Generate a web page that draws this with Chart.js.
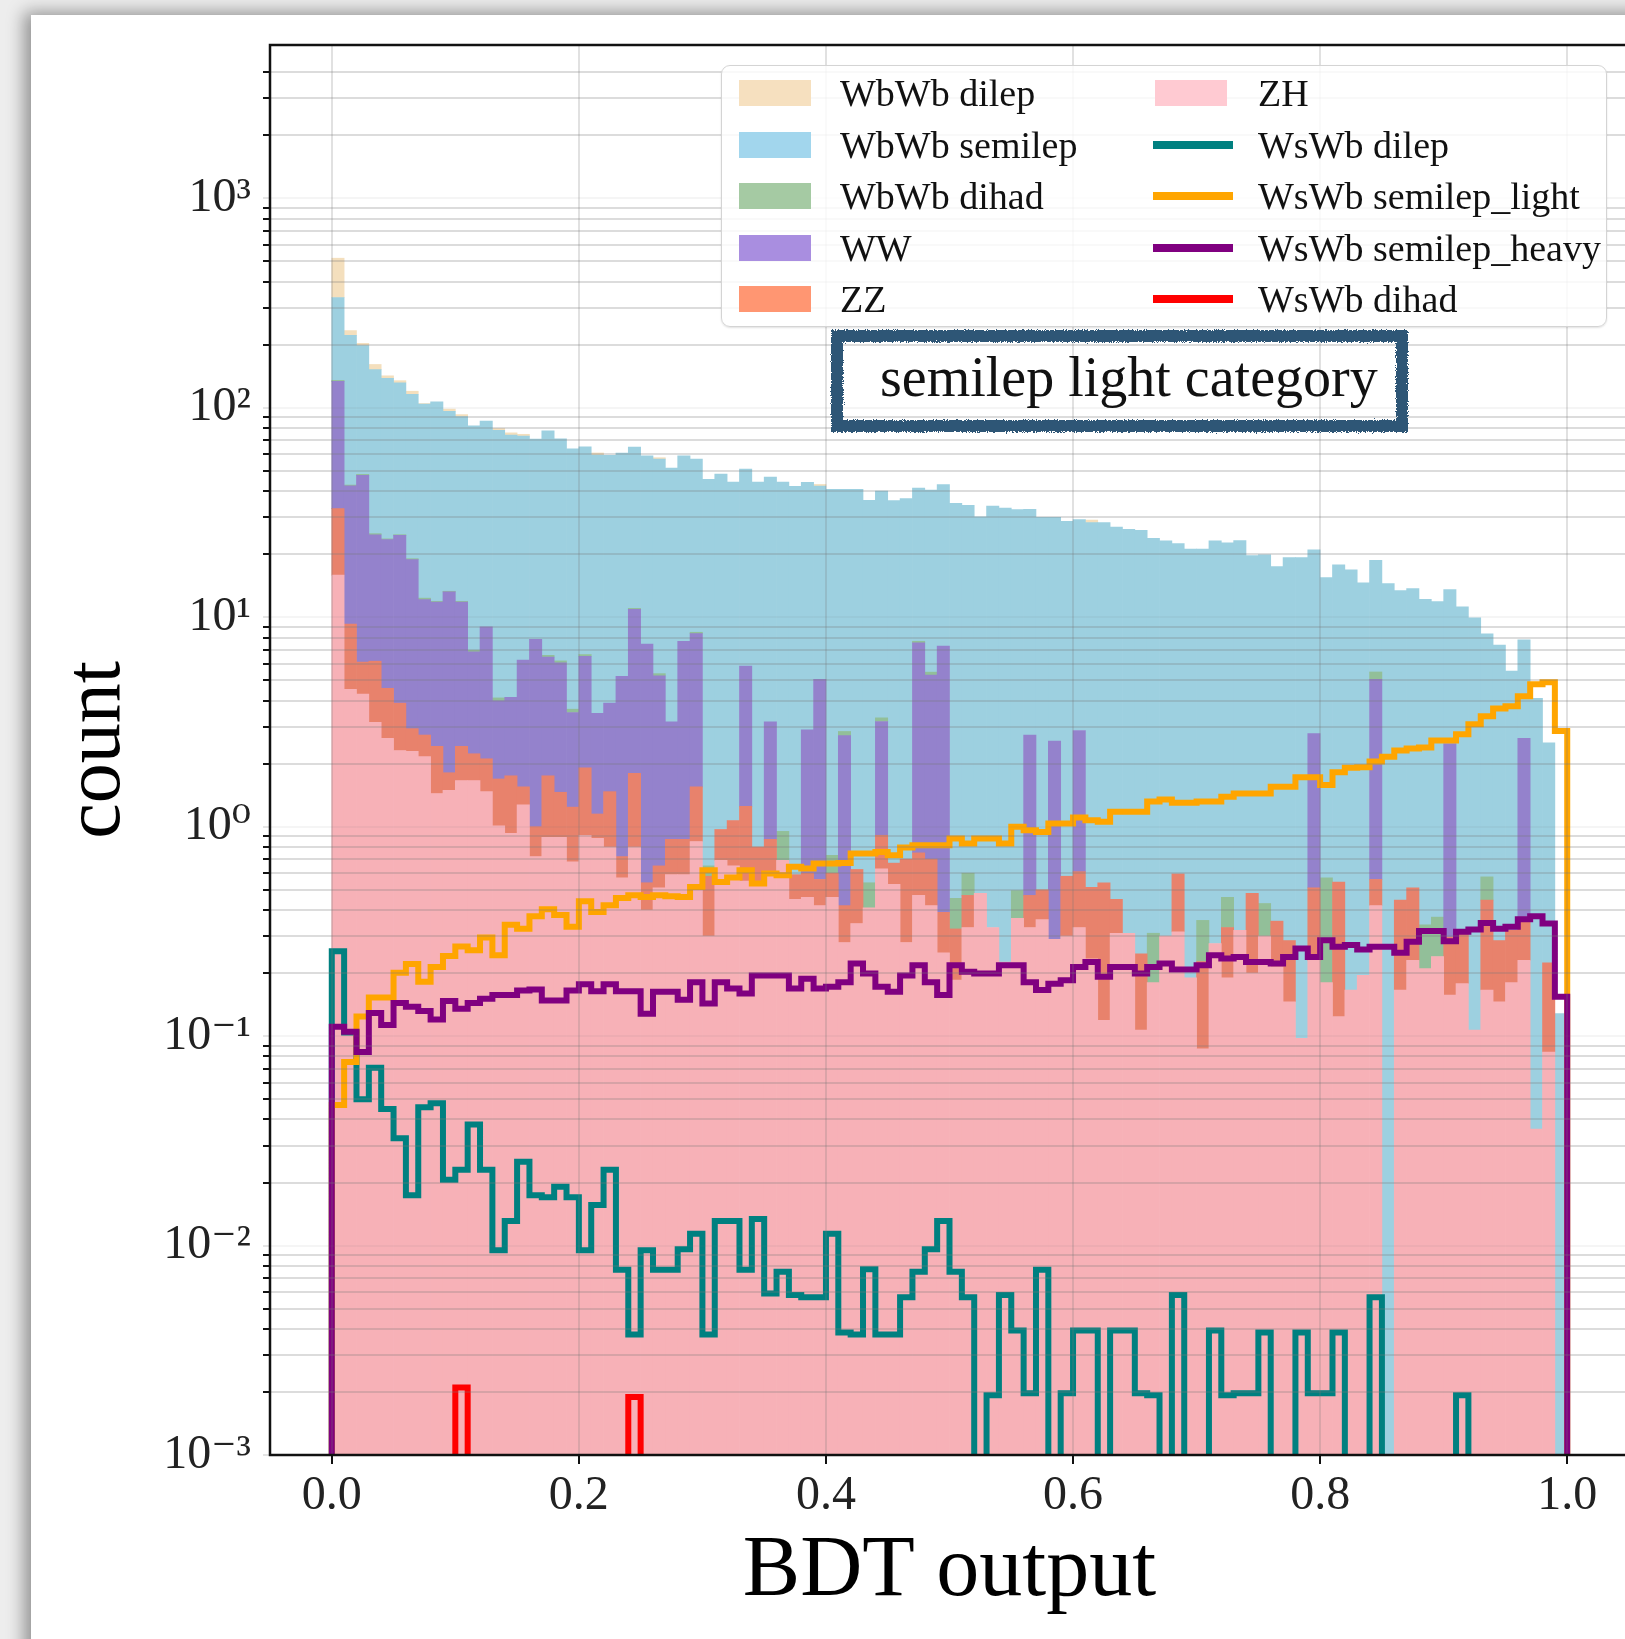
<!DOCTYPE html>
<html>
<head>
<meta charset="utf-8">
<script src="https://cdn.jsdelivr.net/npm/chart.js@4/dist/chart.umd.min.js"></script>
<style>
html, body { margin: 0; padding: 0; width: 1625px; height: 1639px; overflow: hidden; background: #ededed; }
#paper { position: absolute; left: 31px; top: 15px; width: 1700px; height: 1700px; background: #fff;
         box-shadow: -7px -3px 16px rgba(0,0,0,0.38); }
#wrap { position: absolute; left: 0; top: 0; width: 1665px; height: 1639px; }
#legend { position: absolute; left: 721px; top: 65px; width: 886px; height: 262px; box-sizing: border-box;
          border: 1.5px solid #d4d4d4; border-radius: 9px; background: rgba(255,255,255,0.82);
          box-shadow: 0 1px 2px rgba(0,0,0,0.12);
          font-family: 'Liberation Serif', 'DejaVu Serif', serif; font-size: 38px; color: #111; }
.sw { position: absolute; width: 72px; height: 26px; }
.ln { position: absolute; width: 80px; height: 8px; }
.tx { position: absolute; height: 44px; line-height: 44px; white-space: nowrap; }
#catbox { position: absolute; left: 831px; top: 330px; width: 577px; height: 102px; box-sizing: border-box;
          border: 12px solid #2f5676; filter: url(#rough); }
#cattext { position: absolute; left: 880px; top: 330px; height: 94px; line-height: 94px; white-space: nowrap;
           font-family: 'Liberation Serif', 'DejaVu Serif', serif; font-size: 56px; color: #111; }
</style>
</head>
<body>
<svg width="0" height="0" style="position:absolute">
  <filter id="rough" x="-5%" y="-15%" width="110%" height="130%">
    <feTurbulence type="fractalNoise" baseFrequency="0.9" numOctaves="2" seed="4" result="n"/>
    <feDisplacementMap in="SourceGraphic" in2="n" scale="5" xChannelSelector="R" yChannelSelector="G"/>
  </filter>
</svg>
<div id="paper"></div>
<div id="wrap"><canvas id="chart" width="1665" height="1639"></canvas></div>
<div id="legend"></div>
<div id="catbox"></div>
<div id="cattext">semilep light category</div>

<script>
// histogram: 100 bins on [0, 1]
const nBins = 100;
const xTicks = [0, 0.2, 0.4, 0.6, 0.8, 1.0];

// background samples (stacked, bottom first)
const zh = [15.9, 4.53, 4.30, 3.15, 2.64, 2.31, 2.29, 2.16, 1.44, 1.49,
    1.66, 1.66, 1.47, 1.01, 0.93, 1.27, 0.72, 0.89, 0.89, 0.68,
    0.91, 0.88, 0.80, 0.57, 0.80, 0.40, 0.51, 0.59, 0.59, 0.85,
    0.30, 0.69, 0.65, 0.55, 0.52, 0.59, 0.69, 0.45, 0.46, 0.42,
    0.46, 0.28, 0.345, 0.41, 0.63, 0.53, 0.28, 0.47, 0.42, 0.25,
    0.185, 0.33, 0.48, 0.33, 0.226, 0.365, 0.33, 0.36, 0.29, 0.30,
    0.33, 0.234, 0.119, 0.31, 0.31, 0.107, 0.18, 0.30, 0.315, 0.19,
    0.087, 0.277, 0.19, 0.32, 0.20, 0.30, 0.214, 0.146, 0.0975, 0.23,
    0.18, 0.124, 0.166, 0.195, 0.42, 0, 0.166, 0.23, 0.21, 0.24,
    0.157, 0.178, 0.107, 0.166, 0.146, 0.18, 0.23, 0.036, 0.084, 0];
const zz = [17.1, 4.76, 1.81, 3.02, 1.94, 1.58, 0.65, 0.58, 0.98, 0.32,
    0.76, 0.57, 0.64, 0.68, 0.82, 0.28, 0.28, 0.86, 0.57, 0.56,
    1.0, 0.27, 0.67, 0.15, 1.0, 0.14, 0.14, 0.28, 0.28, 0.70,
    0.28, 0.28, 0.42, 0.70, 0.28, 0.28, 0, 0.14, 0.14, 0.14,
    0.14, 0.14, 0.28, 0, 0.28, 0.14, 0.42, 0.28, 0.28, 0.14,
    0.14, 0.14, 0, 0, 0, 0, 0.14, 0.14, 0, 0.28,
    0.28, 0.28, 0.42, 0.14, 0, 0.14, 0, 0, 0.28, 0,
    0.14, 0, 0.14, 0, 0.28, 0, 0.14, 0.14, 0, 0.28,
    0, 0.42, 0, 0, 0.14, 0, 0.28, 0.28, 0, 0,
    0.14, 0.14, 0, 0.28, 0.14, 0.14, 0.14, 0, 0.14, 0];
const ww = [100.7, 33.1, 41.5, 18.6, 18.9, 20.7, 15.9, 9.4, 9.4, 11.4,
    9.4, 4.6, 6.9, 2.3, 2.4, 4.7, 6.85, 4.7, 4.6, 2.27,
    4.6, 2.33, 2.42, 4.5, 9.1, 6.9, 4.6, 2.3, 6.8, 6.8,
    0, 0, 0, 4.6, 0, 2.3, 0, 0, 2.3, 4.5,
    0, 2.3, 0, 0, 2.27, 0, 0, 6.8, 4.6, 6.9,
    0, 0, 0, 0, 0, 0, 2.27, 0, 2.27, 0,
    2.27, 0, 0, 0, 0, 0, 0, 0, 0, 0,
    0, 0, 0, 0, 0, 0, 0, 0, 0, 2.27,
    0, 0, 0, 0, 4.5, 0, 0, 0, 0, 0,
    2.2, 0, 0, 0, 0, 0, 2.27, 0, 0, 0];
const wbwbDihad = [1.5, 0.4, 0.5, 0.3, 0.2, 0.2, 0.2, 0.2, 0.1, 0.1,
    0.1, 0.13, 0, 0.13, 0, 0, 0, 0.13, 0.13, 0.13,
    0.13, 0, 0, 0, 0.13, 0, 0.13, 0, 0, 0.13,
    0.07, 0, 0, 0, 0, 0, 0.26, 0, 0, 0,
    0.13, 0.13, 0, 0.13, 0.13, 0, 0, 0.13, 0.17, 0,
    0.13, 0.13, 0, 0, 0, 0.13, 0, 0, 0, 0,
    0, 0, 0, 0, 0, 0, 0.13, 0, 0, 0,
    0.13, 0, 0.13, 0, 0, 0.13, 0, 0, 0, 0,
    0.39, 0, 0, 0, 0.42, 0, 0, 0, 0.13, 0.13,
    0, 0, 0, 0.13, 0, 0, 0, 0, 0, 0];
const wbwbSemilep = [201, 179, 150, 127, 114.5, 107, 97, 92, 95, 83,
    79, 75, 77.5, 74, 70, 67, 63, 71, 65, 60,
    58.5, 56, 55.5, 55.6, 54, 51.6, 51.5, 48.4, 51.4, 48.5,
    44.9, 47.3, 43.1, 45.2, 43.4, 43.5, 43.2, 41.6, 41.2, 37.2,
    40.1, 38.0, 40.2, 35.6, 36.7, 35.4, 36.2, 33.7, 35.0, 35.7,
    34.5, 33.6, 29.7, 33.6, 33.0, 32.2, 30.0, 29.5, 27.4, 28.1,
    26.4, 27.8, 27.75, 26.5, 26.0, 25.75, 23.5, 22.9, 21.9, 21.0,
    20.8, 22.9, 22.2, 22.9, 19.2, 19.45, 17.1, 19.0, 19.2, 18.2,
    14.9, 17.25, 16.7, 14.4, 13.2, 14.5, 12.95, 13.2, 11.85, 11.5,
    11.06, 10.9, 9.83, 7.75, 7.07, 5.22, 5.16, 4.06, 2.29, 0.128];
const wbwbDilep = [182, 12, 5, 9, 4, 3, 4, 0.5, 0, 2.3,
    1.9, 0, 0, 1.5, 1.8, 1.5, 0, 0, 0, 0,
    0, 1.4, 0, 0, 0, 0, 0.9, 0, 0, 0,
    0, 0, 0, 0, 0, 0, 0, 0, 0, 0.8,
    0, 0, 0, 0, 0, 0, 0, 0, 0, 0,
    0, 0, 0, 0, 0, 0, 0, 0, 0, 0,
    0, 0.8, 0, 0, 0, 0, 0, 0, 0, 0,
    0, 0, 0, 0, 0, 0, 0, 0, 0, 0,
    0, 0, 0, 0, 0, 0, 0, 0, 0, 0,
    0, 0, 0, 0, 0, 0, 0, 0, 0, 0];

// signal samples (step lines)
const wswbDilep = [0.254, 0.104, 0.050, 0.0706, 0.0449, 0.0325, 0.0174, 0.0458, 0.0478, 0.0206,
    0.0230, 0.0378, 0.0230, 0.0095, 0.0131, 0.0251, 0.0174, 0.0170, 0.0191, 0.0170,
    0.0095, 0.0156, 0.0230, 0.00766, 0.00376, 0.0095, 0.00766, 0.00766, 0.0096, 0.0114,
    0.00376, 0.0131, 0.0131, 0.00766, 0.0134, 0.0059, 0.0075, 0.0058, 0.00567, 0.00567,
    0.0114, 0.00385, 0.00376, 0.0077, 0.00376, 0.00376, 0.00567, 0.0075, 0.0096, 0.0131,
    0.0075, 0.00567, 0, 0.00193, 0.0058, 0.00393, 0.00197, 0.00766, 0, 0.00197,
    0.00393, 0.00393, 0, 0.00393, 0.00393, 0.00197, 0.00193, 0, 0.0058, 0,
    0, 0.00393, 0.00193, 0.00197, 0.00197, 0.00385, 0, 0, 0.00385, 0.00197,
    0.00197, 0.00385, 0, 0, 0.00567, 0, 0, 0, 0, 0,
    0, 0.00193, 0, 0, 0, 0, 0, 0, 0, 0];
const wswbSemilepLight = [0.0469, 0.0753, 0.124, 0.153, 0.153, 0.201, 0.221, 0.182, 0.214, 0.241,
    0.268, 0.257, 0.296, 0.243, 0.340, 0.326, 0.374, 0.404, 0.379, 0.333,
    0.441, 0.391, 0.422, 0.457, 0.471, 0.462, 0.471, 0.466, 0.462, 0.516,
    0.620, 0.545, 0.572, 0.620, 0.535, 0.597, 0.586, 0.643, 0.631, 0.667,
    0.667, 0.670, 0.745, 0.745, 0.758, 0.731, 0.795, 0.816, 0.816, 0.816,
    0.879, 0.831, 0.879, 0.879, 0.831, 1.0, 0.962, 0.944, 1.036, 1.036,
    1.107, 1.074, 1.055, 1.18, 1.18, 1.18, 1.32, 1.35, 1.30, 1.30,
    1.32, 1.32, 1.39, 1.44, 1.44, 1.44, 1.55, 1.55, 1.72, 1.72,
    1.58, 1.82, 1.91, 1.92, 2.05, 2.16, 2.31, 2.36, 2.39, 2.58,
    2.58, 2.76, 3.08, 3.37, 3.67, 3.76, 4.20, 4.79, 4.90, 2.86];
const wswbSemilepHeavy = [0.111, 0.105, 0.084, 0.129, 0.113, 0.144, 0.138, 0.132, 0.120, 0.147,
    0.135, 0.144, 0.151, 0.157, 0.157, 0.165, 0.167, 0.148, 0.148, 0.165,
    0.177, 0.164, 0.177, 0.164, 0.164, 0.128, 0.163, 0.163, 0.149, 0.181,
    0.143, 0.181, 0.169, 0.160, 0.195, 0.195, 0.195, 0.169, 0.188, 0.169,
    0.172, 0.181, 0.222, 0.199, 0.172, 0.163, 0.195, 0.218, 0.181, 0.157,
    0.218, 0.203, 0.199, 0.199, 0.218, 0.218, 0.181, 0.166, 0.178, 0.185,
    0.214, 0.226, 0.192, 0.214, 0.214, 0.199, 0.214, 0.222, 0.208, 0.208,
    0.218, 0.243, 0.235, 0.239, 0.226, 0.226, 0.222, 0.239, 0.262, 0.239,
    0.287, 0.267, 0.272, 0.259, 0.267, 0.267, 0.250, 0.282, 0.318, 0.318,
    0.284, 0.315, 0.323, 0.347, 0.326, 0.333, 0.361, 0.374, 0.345, 0.154];
const wswbDihad = [0, 0, 0, 0, 0, 0, 0, 0, 0, 0,
    0.0021, 0, 0, 0, 0, 0, 0, 0, 0, 0,
    0, 0, 0, 0, 0.00189, 0, 0, 0, 0, 0,
    0, 0, 0, 0, 0, 0, 0, 0, 0, 0,
    0, 0, 0, 0, 0, 0, 0, 0, 0, 0,
    0, 0, 0, 0, 0, 0, 0, 0, 0, 0,
    0, 0, 0, 0, 0, 0, 0, 0, 0, 0,
    0, 0, 0, 0, 0, 0, 0, 0, 0, 0,
    0, 0, 0, 0, 0, 0, 0, 0, 0, 0,
    0, 0, 0, 0, 0, 0, 0, 0, 0, 0];

const yMin = 1e-3, yMax = 5400;
const floorVal = 1e-4;   // zero bins of the step lines go below the axis
const serif = "'Liberation Serif', 'DejaVu Serif', serif";

// legend: [label, legend colour, kind]
const legendCol1 = [
    ['WbWb dilep', '#f6e0bf'],
    ['WbWb semilep', '#a2d6ed'],
    ['WbWb dihad', '#a5caa3'],
    ['WW', '#a98ee0'],
    ['ZZ', '#ff9672']
];
const legendCol2 = [
    ['ZH', '#ffcad2', 'patch'],
    ['WsWb dilep', '#008080', 'line'],
    ['WsWb semilep_light', '#ffa500', 'line'],
    ['WsWb semilep_heavy', '#800080', 'line'],
    ['WsWb dihad', '#ff0000', 'line']
];

function bars(label, vals, color) {
    return {
        type: 'bar', label: label, stack: 'bkg', order: 10,
        data: vals.map((v, i) => ({ x: (i + 0.5) / nBins, y: v })).filter(p => p.y > 0),
        backgroundColor: color, borderWidth: 0,
        barPercentage: 1, categoryPercentage: 1
    };
}

function steps(label, vals, color, ord) {
    const pts = [{ x: 0, y: floorVal }];
    vals.forEach((v, i) => pts.push({ x: i / nBins, y: v > 0 ? v : floorVal }));
    pts.push({ x: 1, y: floorVal });
    return {
        type: 'line', label: label, data: pts, order: ord,
        borderColor: color, borderWidth: 6, pointRadius: 0,
        stepped: true, fill: false, clip: 0
    };
}

const isPow10 = v => Math.abs(Math.log10(v) - Math.round(Math.log10(v))) < 1e-9;
const supMap = { '-': '\u207B', '0': '\u2070', '1': '\u00B9', '2': '\u00B2', '3': '\u00B3' };
const sup = n => String(n).split('').map(c => supMap[c]).join('');

const yTickVals = [];
for (let e = -3; e <= 3; e++) {
    for (let k = 1; k <= 9; k++) {
        const v = Number((k * Math.pow(10, e)).toPrecision(3));
        if (v < yMax && v !== 5000) yTickVals.push(v);
    }
}

const frame = {
    id: 'frame',
    afterDraw(chart) {
        const { ctx, chartArea: a } = chart;
        ctx.save();
        ctx.strokeStyle = '#111';
        ctx.lineWidth = 2.5;
        ctx.strokeRect(a.left, a.top, a.right - a.left, a.bottom - a.top);
        ctx.restore();
    }
};

Chart.defaults.font.family = serif;

new Chart(document.getElementById('chart'), {
    type: 'bar',
    data: {
        datasets: [
            steps('WsWb dilep', wswbDilep, '#008080', 4),
            steps('WsWb semilep_light', wswbSemilepLight, '#ffa500', 3),
            steps('WsWb semilep_heavy', wswbSemilepHeavy, '#800080', 2),
            steps('WsWb dihad', wswbDihad, '#ff0000', 1),
            bars('ZH', zh, '#f7b1b7'),
            bars('ZZ', zz, '#e8826c'),
            bars('WW', ww, '#9482cc'),
            bars('WbWb dihad', wbwbDihad, '#92bf99'),
            bars('WbWb semilep', wbwbSemilep, '#9dd0e0'),
            bars('WbWb dilep', wbwbDilep, '#f4dfbd')
        ]
    },
    options: {
        responsive: false,
        animation: false,
        events: [],
        layout: { padding: { left: 0, top: 45, right: 36, bottom: 0 } },
        plugins: { legend: { display: false }, tooltip: { enabled: false } },
        scales: {
            x: {
                type: 'linear', min: -0.05, max: 1.05, offset: false,
                afterFit: s => { s.height = 184; },
                afterBuildTicks: s => { s.ticks = xTicks.map(v => ({ value: v })); },
                grid: { offset: false, z: 1, color: 'rgba(120,120,120,0.22)', lineWidth: 2,
                        tickColor: '#111', tickLength: 9, tickWidth: 2 },
                border: { display: false },
                ticks: { autoSkip: false, maxRotation: 0, padding: 4, color: '#222',
                         font: { size: 48 }, callback: v => v.toFixed(1) },
                title: { display: true, text: 'BDT output', color: '#000',
                         font: { size: 86 }, padding: { top: 0, bottom: 15 } }
            },
            y: {
                type: 'logarithmic', min: yMin, max: yMax,
                afterFit: s => { s.width = 270; },
                afterBuildTicks: s => { s.ticks = yTickVals.map(v => ({ value: v })); },
                grid: {
                    z: 1, lineWidth: 2, tickLength: 7, tickWidth: 2,
                    color: c => isPow10(c.tick.value) ? 'rgba(120,120,120,0.07)' : 'rgba(120,120,120,0.26)',
                    tickColor: c => isPow10(c.tick.value) ? '#e4e4e4' : '#111'
                },
                border: { display: false },
                ticks: { autoSkip: false, padding: 12, color: '#222', font: { size: 48 },
                         callback: v => isPow10(v) ? '10' + sup(Math.round(Math.log10(v))) : '' },
                title: { display: true, text: 'count', color: '#000',
                         font: { size: 80 }, padding: { top: 50, bottom: 0 } }
            }
        }
    },
    plugins: [frame]
});

// legend, two columns of five rows
const legend = document.getElementById('legend');
function addEntry(col, row, label, color, kind) {
    const cy = 27 + row * 51.5;
    const sw = document.createElement('div');
    if (kind === 'line') {
        sw.className = 'ln';
        sw.style.left = (col ? 431 : 17) + 'px';
        sw.style.top = (cy - 4) + 'px';
    } else {
        sw.className = 'sw';
        sw.style.left = (col ? 433 : 17) + 'px';
        sw.style.top = (cy - 13) + 'px';
    }
    sw.style.background = color;
    legend.appendChild(sw);
    const tx = document.createElement('div');
    tx.className = 'tx';
    tx.style.left = (col ? 536 : 118) + 'px';
    tx.style.top = (cy - 22) + 'px';
    tx.textContent = label;
    legend.appendChild(tx);
}
legendCol1.forEach((e, r) => addEntry(0, r, e[0], e[1], 'patch'));
legendCol2.forEach((e, r) => addEntry(1, r, e[0], e[1], e[2]));
</script>
</body>
</html>
